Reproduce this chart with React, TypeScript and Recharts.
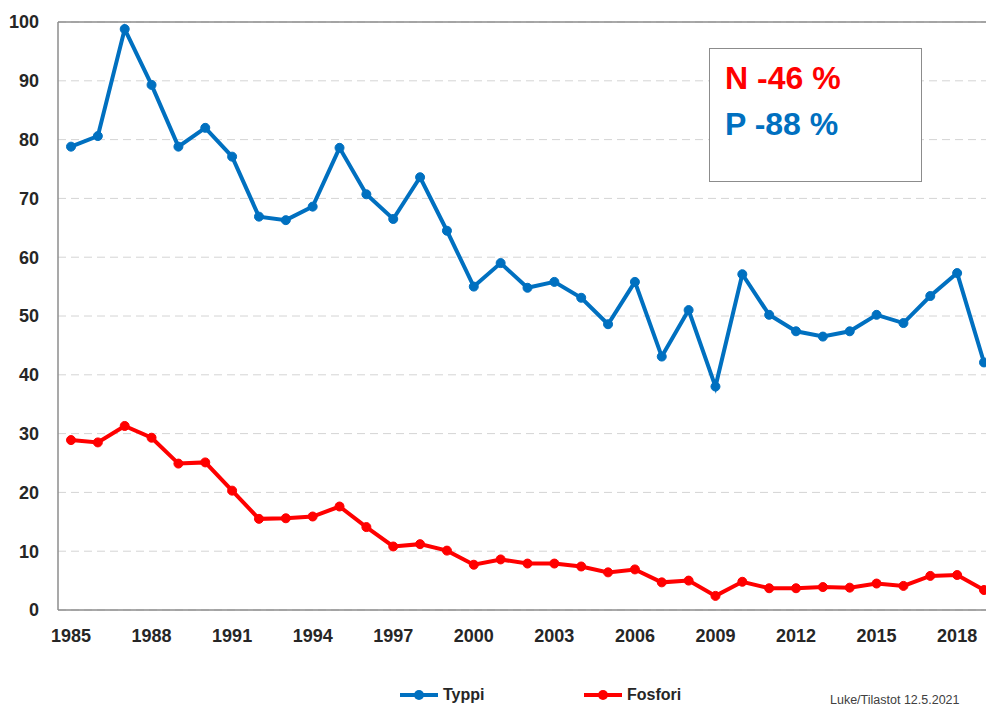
import React, { useLayoutEffect } from "react";
import { LineChart, Line, XAxis, YAxis, CartesianGrid, ReferenceLine } from "recharts";

const years = [
  1985, 1986, 1987, 1988, 1989, 1990, 1991, 1992, 1993, 1994, 1995, 1996, 1997, 1998, 1999, 2000, 2001,
  2002, 2003, 2004, 2005, 2006, 2007, 2008, 2009, 2010, 2011, 2012, 2013, 2014, 2015, 2016, 2017, 2018, 2019,
];
const typpi = [
  78.8, 80.6, 98.8, 89.3, 78.8, 82.0, 77.1, 66.9, 66.3, 68.6, 78.6, 70.7, 66.5, 73.6, 64.5, 55.0, 59.0,
  54.8, 55.8, 53.1, 48.6, 55.8, 43.1, 51.0, 38.0, 57.1, 50.2, 47.4, 46.5, 47.4, 50.2, 48.8, 53.4, 57.3, 42.1,
];
const fosfori = [
  28.9, 28.5, 31.3, 29.3, 24.9, 25.1, 20.3, 15.5, 15.6, 15.9, 17.6, 14.1, 10.8, 11.2, 10.1, 7.7, 8.6,
  7.9, 7.9, 7.4, 6.4, 6.9, 4.7, 5.0, 2.4, 4.8, 3.7, 3.7, 3.9, 3.8, 4.5, 4.1, 5.8, 5.95, 3.4,
];
const yTicks = [0, 10, 20, 30, 40, 50, 60, 70, 80, 90, 100];

const BLUE = "#0070C0";
const RED = "#FF0000";
const FONT = "'Liberation Sans', Arial, sans-serif";

const data = years.map((y, i) => ({ year: y, typpi: typpi[i], fosfori: fosfori[i] }));

const tick = { fontFamily: FONT, fontSize: 18, fontWeight: 700, fill: "#262626" };

function LegendItem({ color, label, left }: { color: string; label: string; left: number }) {
  return (
    <div style={{ position: "absolute", left, top: 677, display: "flex", alignItems: "center" }}>
      <svg width={40} height={20}>
        <line x1={0} y1={10} x2={38} y2={10} stroke={color} strokeWidth={4} />
        <circle cx={19} cy={10} r={5} fill={color} />
      </svg>
      <span style={{ fontFamily: FONT, fontSize: 16, fontWeight: 700, color: "#262626", marginLeft: 3 }}>{label}</span>
    </div>
  );
}

export default function App() {
  // the plot runs to the right edge of the window, so drop the default body margin
  useLayoutEffect(() => {
    document.body.style.margin = "0";
  }, []);

  return (
    <div style={{ width: 986, height: 708, overflow: "hidden", fontFamily: FONT }}>
      <div style={{ position: "relative", left: 8, top: 8, width: 978, height: 700 }}>
        <LineChart width={989} height={700} data={data} margin={{ top: 14, right: 0, left: 0, bottom: 58 }}>
          <CartesianGrid vertical={false} strokeDasharray="8 5" stroke="#d4d4d4" />
          <XAxis
            dataKey="year"
            interval={2}
            padding={{ left: 13, right: 13 }}
            height={40}
            tickLine={false}
            tickSize={0}
            tickMargin={19}
            axisLine={{ stroke: "#8c8c8c", strokeWidth: 1.5 }}
            tick={tick}
          />
          <YAxis
            domain={[0, 100]}
            ticks={yTicks}
            width={50}
            tickLine={false}
            tickSize={0}
            tickMargin={19}
            axisLine={{ stroke: "#8c8c8c", strokeWidth: 1.5 }}
            tick={tick}
          />
          <ReferenceLine y={100} stroke="#8c8c8c" strokeWidth={1.5} />
          <Line
            type="linear"
            dataKey="typpi"
            name="Typpi"
            stroke={BLUE}
            strokeWidth={4}
            dot={{ r: 4.5, fill: BLUE, stroke: BLUE, strokeWidth: 1 }}
            isAnimationActive={false}
          />
          <Line
            type="linear"
            dataKey="fosfori"
            name="Fosfori"
            stroke={RED}
            strokeWidth={4}
            dot={{ r: 4.5, fill: RED, stroke: RED, strokeWidth: 1 }}
            isAnimationActive={false}
          />
        </LineChart>

        <div
          style={{
            position: "absolute",
            left: 701,
            top: 40,
            width: 211,
            height: 132,
            border: "1.5px solid #8c8c8c",
            background: "#fff",
          }}
        >
          <div style={{ position: "absolute", left: 15, top: 13, fontSize: 32, lineHeight: "32px", fontWeight: 700, color: RED, whiteSpace: "nowrap" }}>
            N -46 %
          </div>
          <div style={{ position: "absolute", left: 15, top: 59, fontSize: 32, lineHeight: "32px", fontWeight: 700, color: BLUE, whiteSpace: "nowrap" }}>
            P -88 %
          </div>
        </div>

        <LegendItem color={BLUE} label="Typpi" left={392} />
        <LegendItem color={RED} label="Fosfori" left={576} />

        <div style={{ position: "absolute", left: 822, top: 685, fontSize: 12.5, color: "#404040", whiteSpace: "nowrap" }}>
          Luke/Tilastot 12.5.2021
        </div>
      </div>
    </div>
  );
}
